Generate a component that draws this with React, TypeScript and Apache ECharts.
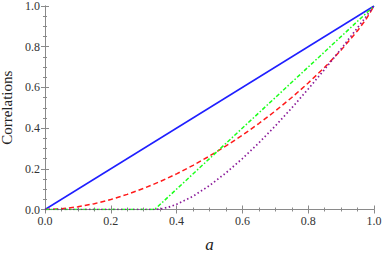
import React, { useEffect, useRef } from "react";
import * as echarts from "echarts";

const blueLine: [number, number][] = [[0, 0], [1, 1]];
const greenLine: [number, number][] = [[0, 0], [0.3333, 0], [1, 1]];
const redLine: [number, number][] = [
  [0, 0], [0.05, 0.0034], [0.1, 0.0132], [0.15, 0.0286], [0.2, 0.049], [0.25, 0.0742],
  [0.3, 0.1038], [0.35, 0.1375], [0.4, 0.1753], [0.45, 0.217], [0.5, 0.2625],
  [0.55, 0.3123], [0.6, 0.3651], [0.65, 0.4225], [0.7, 0.484], [0.75, 0.5502],
  [0.8, 0.6214], [0.85, 0.6986], [0.9, 0.7832], [0.95, 0.8785], [0.975, 0.9329], [1, 1],
];
const purpleLine: [number, number][] = [
  [0, 0], [0.3333, 0], [0.35, 0.0022], [0.375, 0.0112], [0.4, 0.0253], [0.45, 0.0652],
  [0.5, 0.1176], [0.55, 0.1799], [0.6, 0.2502], [0.65, 0.3275], [0.7, 0.4106],
  [0.75, 0.499], [0.8, 0.5919], [0.85, 0.6888], [0.9, 0.7894], [0.95, 0.8932],
  [0.975, 0.9463], [1, 1],
];

const FRAME = "#8a8a8a";
const SERIF = "Times New Roman, Liberation Serif, serif";

function axisBase(showLabel: boolean, position: string, margin: number) {
  return {
    type: "value",
    min: 0,
    max: 1,
    interval: 0.2,
    position,
    axisLine: { show: true, lineStyle: { color: FRAME, width: 1 } },
    axisTick: { show: true, inside: true, length: 4, lineStyle: { color: FRAME } },
    minorTick: { show: true, splitNumber: 4, length: 2, lineStyle: { color: FRAME } },
    splitLine: { show: false },
    minorSplitLine: { show: false },
    axisLabel: {
      show: showLabel,
      formatter: (v: number) => v.toFixed(1),
      fontFamily: SERIF,
      fontSize: 12,
      color: "#333",
      margin,
    },
  };
}

export default function App() {
  const ref = useRef<HTMLDivElement>(null);
  useEffect(() => {
    if (!ref.current) return;
    const chart = echarts.init(ref.current, undefined, { renderer: "svg" });
    chart.setOption({
      animation: false,
      backgroundColor: "#fff",
      textStyle: { fontFamily: SERIF },
      grid: { left: 45, top: 6, right: 8, bottom: 44.5, containLabel: false, outerBoundsMode: "none" },
      xAxis: [
        {
          ...axisBase(true, "bottom", 5),
          name: "a",
          nameLocation: "middle",
          nameGap: 26,
          nameTextStyle: { fontFamily: SERIF, fontSize: 17, fontStyle: "italic", color: "#222" },
        },
        { ...axisBase(false, "top", 6) },
      ],
      yAxis: [
        {
          ...axisBase(true, "left", 5),
          name: "Correlations",
          nameLocation: "middle",
          nameGap: 25,
          nameTextStyle: { fontFamily: SERIF, fontSize: 15, color: "#222" },
        },
        { ...axisBase(false, "right", 5) },
      ],
      series: [
        {
          type: "line", data: blueLine, showSymbol: false, symbol: "none",
          lineStyle: { color: "#1f1fff", width: 1.5, type: "solid" },
        },
        {
          type: "line", data: redLine, showSymbol: false, symbol: "none",
          lineStyle: { color: "#ff1a1a", width: 1.5, type: [5, 3] },
        },
        {
          type: "line", data: greenLine, showSymbol: false, symbol: "none",
          lineStyle: { color: "#1aff1a", width: 1.5, type: [4, 2, 1.5, 2] },
        },
        {
          type: "line", data: purpleLine, showSymbol: false, symbol: "none",
          lineStyle: { color: "#8a1a99", width: 1.7, type: [1.5, 2.5] },
        },
      ],
    });
    return () => chart.dispose();
  }, []);
  return (
    <div
      ref={ref}
      style={{ position: "absolute", left: 0, top: 0, width: 382, height: 254 }}
    />
  );
}
